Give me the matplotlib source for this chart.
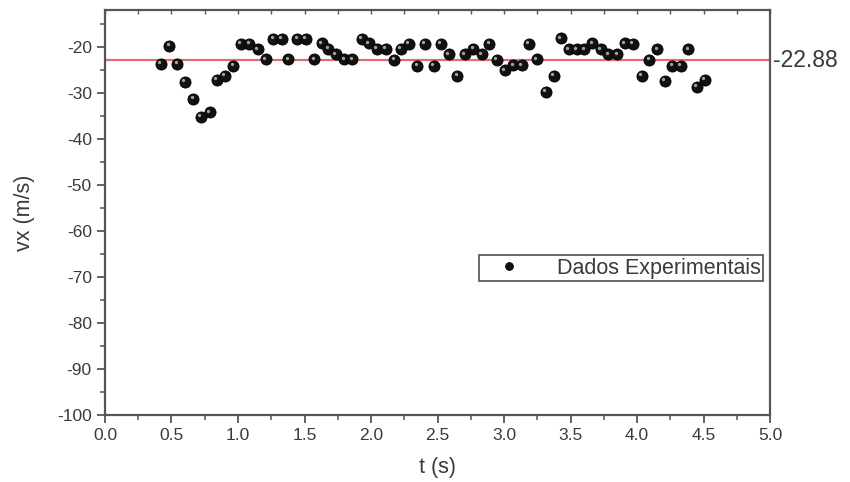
import matplotlib
matplotlib.use('Agg')
import matplotlib.pyplot as plt
import matplotlib.transforms as mtransforms
from matplotlib.ticker import MultipleLocator

plt.rcParams['font.family'] = ['Liberation Sans', 'DejaVu Sans']
plt.rcParams['axes.unicode_minus'] = False

# data
t = [0.419, 0.483, 0.544, 0.602, 0.664, 0.722, 0.789, 0.840, 0.902, 0.965,
     1.023, 1.085, 1.148, 1.207, 1.265, 1.329, 1.378, 1.446, 1.509, 1.574,
     1.629, 1.679, 1.735, 1.799, 1.859, 1.930, 1.985, 2.043, 2.109, 2.175,
     2.226, 2.286, 2.348, 2.406, 2.474, 2.526, 2.586, 2.649, 2.707, 2.769,
     2.832, 2.889, 2.947, 3.008, 3.071, 3.132, 3.188, 3.248, 3.312, 3.372,
     3.429, 3.489, 3.545, 3.604, 3.664, 3.729, 3.784, 3.852, 3.910, 3.968,
     4.035, 4.092, 4.153, 4.211, 4.265, 4.331, 4.386, 4.449, 4.511]
vx = [-23.70, -19.78, -23.70, -27.54, -31.30, -35.15, -34.20, -27.17, -26.24, -24.07,
      -19.35, -19.35, -20.50, -22.72, -18.26, -18.26, -22.67, -18.26, -18.26, -22.67,
      -19.20, -20.43, -21.59, -22.67, -22.67, -18.26, -19.20, -20.43, -20.43, -22.83,
      -20.43, -19.35, -24.07, -19.35, -24.07, -19.35, -21.59, -26.24, -21.59, -20.43,
      -21.59, -19.35, -22.83, -25.11, -24.02, -24.02, -19.35, -22.72, -29.72, -26.30,
      -18.11, -20.50, -20.50, -20.50, -19.20, -20.50, -21.59, -21.59, -19.24, -19.35,
      -26.24, -22.83, -20.50, -27.39, -24.07, -24.07, -20.50, -28.63, -27.17]
mean_vx = -22.88

txt = '#3a3a3a'
spc = '#555555'

fig = plt.figure(figsize=(8.5, 4.82), dpi=100)
ax = fig.add_axes([0.1235, 0.139, 0.7825, 0.84])

ax.plot(t, vx, 'o', color='#111111', markersize=8, markeredgecolor='#000000',
        markeredgewidth=0.6, label='Dados Experimentais', zorder=3)
# small highlight on each sphere
hl = mtransforms.offset_copy(ax.transData, fig=fig, x=-1.2, y=1.2, units='points')
ax.plot(t, vx, 'o', color='#a0a0a0', markersize=2.4, markeredgewidth=0,
        transform=hl, zorder=4)

ax.axhline(mean_vx, color='#e46a72', lw=1.6, zorder=2)
ax.text(1.005, mean_vx, '%.2f' % mean_vx, transform=ax.get_yaxis_transform(),
        va='center', ha='left', fontsize=16.5, color=txt)

ax.set_xlim(0, 5)
ax.set_ylim(-100, -12)
ax.xaxis.set_major_locator(MultipleLocator(0.5))
ax.xaxis.set_minor_locator(MultipleLocator(0.25))
ax.set_yticks(range(-100, -10, 10))
ax.yaxis.set_minor_locator(MultipleLocator(5))

for s in ax.spines.values():
    s.set_color(spc)
    s.set_linewidth(1.6)

ax.tick_params(which='major', direction='out', length=6, width=1.3,
               color=spc, labelsize=12.5, labelcolor=txt)
ax.tick_params(which='minor', direction='out', length=3.5, width=1.1, color=spc)

# little inward ticks on the top frame
top = ax.secondary_xaxis('top')
top.xaxis.set_major_locator(MultipleLocator(0.5))
top.xaxis.set_minor_locator(MultipleLocator(0.25))
top.tick_params(which='both', direction='in', length=3, width=1.0, color=spc,
                labeltop=False)
top.spines['top'].set_visible(False)

ax.set_xlabel('t (s)', fontsize=15.5, color=txt, labelpad=10)
ax.set_ylabel('vx (m/s)', fontsize=15.5, color=txt, labelpad=16)

leg = ax.legend(loc='center right', bbox_to_anchor=(1.005, 0.363), fontsize=15.5,
                frameon=True, fancybox=False, handletextpad=0.9, handlelength=2.6,
                borderpad=0.1, markerscale=0.7)
leg.get_frame().set_edgecolor('#222222')
leg.get_frame().set_linewidth(1.2)
for tx in leg.get_texts():
    tx.set_color(txt)

fig.savefig('out.png', dpi=100)
